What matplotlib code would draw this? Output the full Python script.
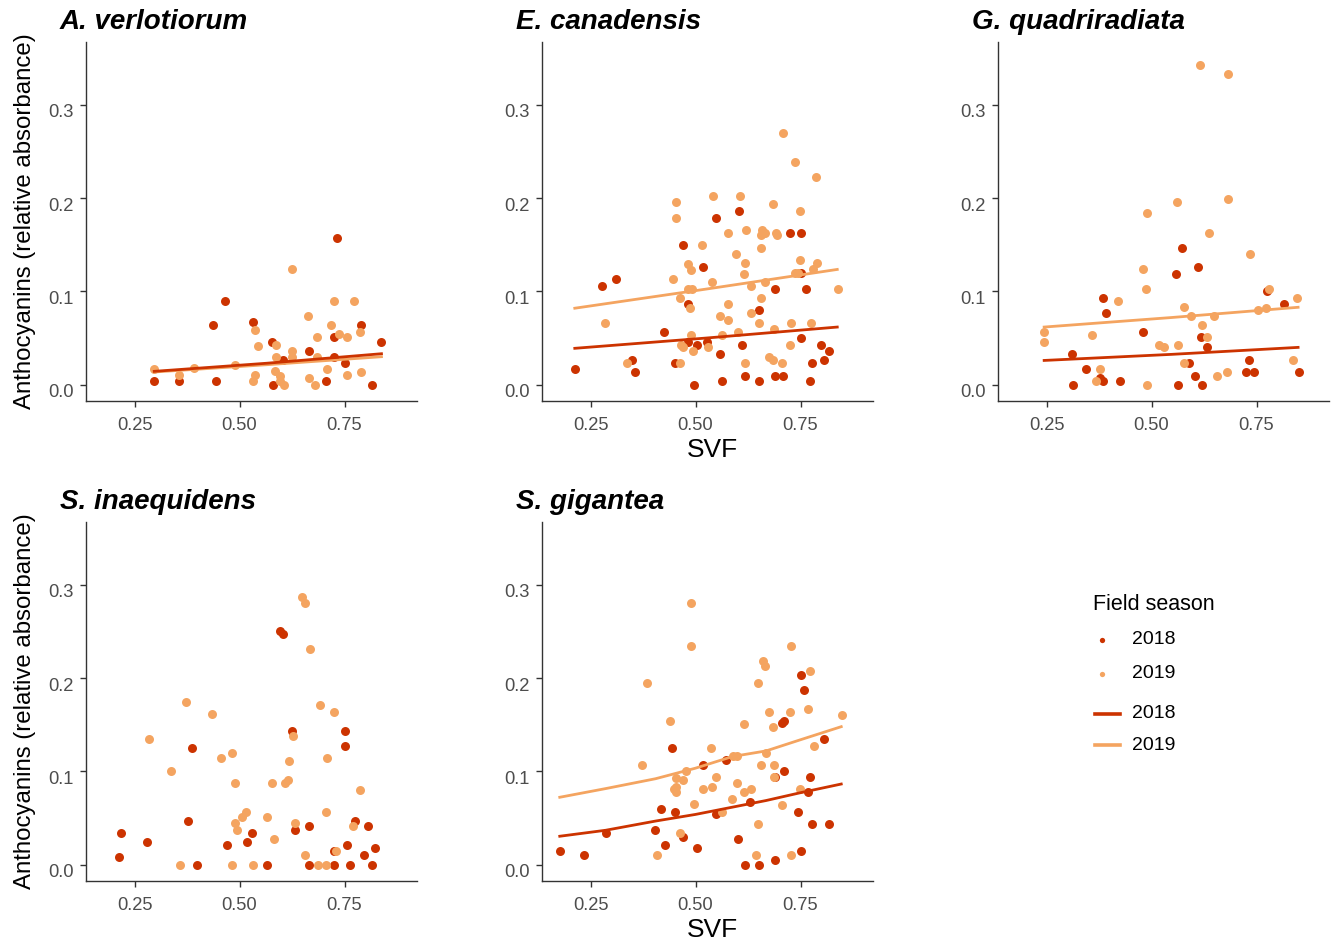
import matplotlib
matplotlib.use("Agg")
import matplotlib.pyplot as plt
from matplotlib.lines import Line2D
from matplotlib.transforms import ScaledTranslation

plt.rcParams['font.family'] = ['Liberation Sans', 'DejaVu Sans']

species = ["A. verlotiorum", "E. canadensis", "G. quadriradiata", "S. inaequidens", "S. gigantea"]
seasons = ["2018", "2019"]
colors = {"2018": "#CC3300", "2019": "#F4A460"}

# ---- A. verlotiorum ----
av18_x = [0.297, 0.356, 0.444, 0.466, 0.437, 0.532, 0.577, 0.604, 0.579, 0.665, 0.731, 0.725, 0.725, 0.705, 0.752, 0.789, 0.816, 0.838]
av18_y = [0.004, 0.004, 0.004, 0.090, 0.064, 0.067, 0.046, 0.027, 0.000, 0.036, 0.1575, 0.051, 0.030, 0.004, 0.023, 0.064, 0.000, 0.046]
av19_x = [0.297, 0.356, 0.392, 0.489, 0.538, 0.544, 0.538, 0.533, 0.587, 0.587, 0.584, 0.597, 0.597, 0.607, 0.625, 0.625, 0.625, 0.662, 0.685, 0.685, 0.665, 0.679, 0.708, 0.718, 0.725, 0.737, 0.756, 0.756, 0.773, 0.787, 0.789]
av19_y = [0.017, 0.010, 0.0175, 0.021, 0.059, 0.041, 0.010, 0.004, 0.043, 0.030, 0.015, 0.009, 0.004, 0.000, 0.124, 0.036, 0.030, 0.074, 0.051, 0.030, 0.007, 0.000, 0.017, 0.064, 0.090, 0.054, 0.051, 0.010, 0.090, 0.056, 0.014]
av18_fit_x = [0.297, 0.565, 0.838]
av18_fit_y = [0.0143, 0.0230, 0.0332]
av19_fit_x = [0.297, 0.565, 0.838]
av19_fit_y = [0.0136, 0.0214, 0.0300]

# ---- E. canadensis ----
ec18_x = [0.2126, 0.277, 0.3105, 0.3495, 0.356, 0.425, 0.4506, 0.4705, 0.481, 0.483, 0.503, 0.497, 0.518, 0.528, 0.549, 0.559, 0.564, 0.603, 0.6115, 0.617, 0.650, 0.650, 0.689, 0.689, 0.709, 0.7245, 0.751, 0.751, 0.751, 0.764, 0.7715, 0.777, 0.798, 0.807, 0.817]
ec18_y = [0.0171, 0.106, 0.1136, 0.027, 0.014, 0.056, 0.023, 0.150, 0.0864, 0.0457, 0.0429, 0.000, 0.1264, 0.0457, 0.179, 0.033, 0.0036, 0.186, 0.043, 0.0096, 0.0796, 0.0036, 0.103, 0.0096, 0.0096, 0.163, 0.163, 0.120, 0.050, 0.103, 0.0036, 0.023, 0.043, 0.027, 0.036]
ec19_x = [0.285, 0.336, 0.4475, 0.454, 0.454, 0.464, 0.464, 0.465, 0.4705, 0.4825, 0.489, 0.481, 0.4905, 0.487, 0.490, 0.493, 0.516, 0.529, 0.540, 0.541, 0.559, 0.5635, 0.578, 0.578, 0.578, 0.597, 0.601, 0.6065, 0.6145, 0.617, 0.617, 0.621, 0.633, 0.633, 0.650, 0.656, 0.659, 0.665, 0.656, 0.657, 0.666, 0.675, 0.684, 0.684, 0.687, 0.692, 0.693, 0.7055, 0.7095, 0.7245, 0.7285, 0.737, 0.7365, 0.743, 0.748, 0.748, 0.774, 0.780, 0.787, 0.790, 0.839]
ec19_y = [0.0664, 0.023, 0.1136, 0.196, 0.179, 0.0925, 0.023, 0.043, 0.040, 0.129, 0.123, 0.103, 0.103, 0.082, 0.0536, 0.0357, 0.150, 0.040, 0.110, 0.2025, 0.074, 0.0536, 0.163, 0.0868, 0.0696, 0.140, 0.056, 0.2025, 0.119, 0.130, 0.023, 0.166, 0.106, 0.077, 0.0664, 0.160, 0.166, 0.163, 0.147, 0.093, 0.110, 0.030, 0.027, 0.1936, 0.0596, 0.163, 0.160, 0.023, 0.270, 0.043, 0.0664, 0.239, 0.120, 0.120, 0.186, 0.134, 0.0664, 0.1236, 0.223, 0.130, 0.103]
ec18_fit_x = [0.2126, 0.525, 0.8375]
ec18_fit_y = [0.0390, 0.0500, 0.0618]
ec19_fit_x = [0.2126, 0.525, 0.8375]
ec19_fit_y = [0.0820, 0.1025, 0.1236]

# ---- G. quadriradiata ----
gq18_x = [0.311, 0.3135, 0.344, 0.3785, 0.3855, 0.3855, 0.391, 0.4245, 0.480, 0.559, 0.564, 0.5715, 0.590, 0.604, 0.611, 0.617, 0.621, 0.631, 0.731, 0.7245, 0.745, 0.776, 0.815, 0.8516]
gq18_y = [0.033, 0.000, 0.017, 0.007, 0.0036, 0.093, 0.077, 0.0036, 0.056, 0.119, 0.000, 0.147, 0.023, 0.0096, 0.1264, 0.0507, 0.000, 0.040, 0.027, 0.014, 0.014, 0.100, 0.0868, 0.014]
gq19_x = [0.2444, 0.2444, 0.359, 0.369, 0.3785, 0.421, 0.479, 0.4865, 0.4897, 0.4897, 0.518, 0.5286, 0.561, 0.564, 0.578, 0.578, 0.595, 0.616, 0.621, 0.633, 0.6365, 0.649, 0.657, 0.679, 0.6825, 0.6825, 0.735, 0.754, 0.773, 0.7786, 0.838, 0.847]
gq19_y = [0.056, 0.046, 0.0536, 0.0036, 0.017, 0.090, 0.124, 0.103, 0.184, 0.000, 0.043, 0.040, 0.196, 0.043, 0.083, 0.023, 0.074, 0.343, 0.064, 0.0507, 0.163, 0.074, 0.0096, 0.014, 0.333, 0.1996, 0.140, 0.0796, 0.082, 0.103, 0.027, 0.093]
gq18_fit_x = [0.2444, 0.547, 0.849]
gq18_fit_y = [0.0260, 0.0325, 0.0400]
gq19_fit_x = [0.2444, 0.547, 0.849]
gq19_fit_y = [0.0618, 0.0720, 0.0830]

# ---- S. inaequidens ----
si18_x = [0.214, 0.2167, 0.2786, 0.378, 0.386, 0.3992, 0.4698, 0.519, 0.5286, 0.565, 0.597, 0.604, 0.625, 0.631, 0.666, 0.666, 0.7254, 0.7254, 0.751, 0.751, 0.756, 0.763, 0.776, 0.797, 0.806, 0.816, 0.822]
si18_y = [0.008, 0.034, 0.024, 0.047, 0.1246, 0.000, 0.0214, 0.024, 0.034, 0.000, 0.2507, 0.247, 0.1436, 0.037, 0.0414, 0.000, 0.000, 0.015, 0.1436, 0.1275, 0.021, 0.000, 0.047, 0.0107, 0.0418, 0.000, 0.0179]
si19_x = [0.285, 0.3365, 0.3595, 0.373, 0.435, 0.4548, 0.4825, 0.4833, 0.4897, 0.4897, 0.493, 0.5063, 0.516, 0.533, 0.565, 0.578, 0.581, 0.6087, 0.615, 0.6167, 0.6265, 0.6333, 0.6484, 0.657, 0.656, 0.669, 0.6857, 0.692, 0.7056, 0.7048, 0.709, 0.7254, 0.7286, 0.7706, 0.7865]
si19_y = [0.135, 0.101, 0.000, 0.174, 0.1614, 0.114, 0.120, 0.000, 0.088, 0.0443, 0.0368, 0.0514, 0.057, 0.000, 0.0514, 0.088, 0.028, 0.088, 0.091, 0.1114, 0.1375, 0.0443, 0.2875, 0.2807, 0.0107, 0.2314, 0.000, 0.1714, 0.000, 0.057, 0.114, 0.1636, 0.015, 0.0414, 0.080]

# ---- S. gigantea ----
sg18_x = [0.1768, 0.2349, 0.2874, 0.4045, 0.418, 0.4275, 0.4443, 0.4514, 0.4713, 0.5032, 0.519, 0.549, 0.5717, 0.601, 0.617, 0.6306, 0.652, 0.6895, 0.690, 0.706, 0.710, 0.710, 0.745, 0.7508, 0.7508, 0.758, 0.7667, 0.7715, 0.777, 0.807, 0.8177]
sg18_y = [0.015, 0.0107, 0.0336, 0.0368, 0.060, 0.0214, 0.1246, 0.057, 0.030, 0.0175, 0.107, 0.054, 0.112, 0.028, 0.000, 0.0675, 0.000, 0.094, 0.0046, 0.152, 0.154, 0.101, 0.057, 0.2036, 0.015, 0.187, 0.0775, 0.094, 0.044, 0.135, 0.044]
sg19_x = [0.3726, 0.3846, 0.4077, 0.4395, 0.453, 0.448, 0.4538, 0.4538, 0.4642, 0.4705, 0.4769, 0.4897, 0.4897, 0.4968, 0.519, 0.5358, 0.5398, 0.549, 0.5637, 0.5868, 0.5884, 0.598, 0.598, 0.6146, 0.6146, 0.633, 0.6433, 0.6497, 0.6497, 0.6568, 0.660, 0.6648, 0.6672, 0.675, 0.6847, 0.6863, 0.6863, 0.7054, 0.7245, 0.7285, 0.7285, 0.748, 0.7667, 0.7715, 0.781, 0.8487]
sg19_y = [0.107, 0.195, 0.0107, 0.1536, 0.093, 0.081, 0.0836, 0.0775, 0.034, 0.091, 0.101, 0.281, 0.2343, 0.065, 0.081, 0.1246, 0.0836, 0.094, 0.057, 0.0704, 0.1168, 0.1168, 0.088, 0.0775, 0.151, 0.081, 0.0107, 0.195, 0.044, 0.107, 0.2186, 0.2132, 0.1196, 0.164, 0.148, 0.107, 0.094, 0.064, 0.164, 0.2343, 0.0107, 0.081, 0.167, 0.208, 0.1275, 0.161]
sg18_fit_x = [0.1768, 0.286, 0.405, 0.500, 0.588, 0.668, 0.748, 0.847]
sg18_fit_y = [0.0305, 0.0369, 0.0468, 0.0539, 0.0617, 0.0688, 0.0770, 0.0865]
sg19_fit_x = [0.1768, 0.286, 0.405, 0.500, 0.588, 0.668, 0.748, 0.847]
sg19_fit_y = [0.0723, 0.0816, 0.0922, 0.1035, 0.1160, 0.1220, 0.1337, 0.1480]

panels = [
    (species[0], (av18_x, av18_y), (av19_x, av19_y), (av18_fit_x, av18_fit_y), (av19_fit_x, av19_fit_y)),
    (species[1], (ec18_x, ec18_y), (ec19_x, ec19_y), (ec18_fit_x, ec18_fit_y), (ec19_fit_x, ec19_fit_y)),
    (species[2], (gq18_x, gq18_y), (gq19_x, gq19_y), (gq18_fit_x, gq18_fit_y), (gq19_fit_x, gq19_fit_y)),
    (species[3], (si18_x, si18_y), (si19_x, si19_y), None, None),
    (species[4], (sg18_x, sg18_y), (sg19_x, sg19_y), (sg18_fit_x, sg18_fit_y), (sg19_fit_x, sg19_fit_y)),
]

xticks = [0.25, 0.50, 0.75]
xticklabels = ["0.25", "0.50", "0.75"]
yticks = [0.0, 0.1, 0.2, 0.3]
yticklabels = ["0.0", "0.1", "0.2", "0.3"]

W, H = 1335, 942
fig = plt.figure(figsize=(W / 100, H / 100), dpi=100)

col_left = [86, 542, 998]
row_top = [42, 522]
ax_w, ax_h = 331, 359
ydown = ScaledTranslation(0, -6 / 100, fig.dpi_scale_trans)

for i, (name, p18, p19, f18, f19) in enumerate(panels):
    r, c = divmod(i, 3)
    l = col_left[c]
    t = row_top[r]
    ax = fig.add_axes([l / W, 1 - (t + ax_h) / H, ax_w / W, ax_h / H])
    ax.scatter(p18[0], p18[1], s=42, color=colors["2018"], linewidths=0, zorder=2)
    ax.scatter(p19[0], p19[1], s=42, color=colors["2019"], linewidths=0, zorder=2)
    if f18 is not None:
        ax.plot(f19[0], f19[1], color=colors["2019"], lw=2.0, zorder=3)
        ax.plot(f18[0], f18[1], color=colors["2018"], lw=2.0, zorder=3)
    ax.set_xlim(0.1345, 0.9226)
    ax.set_ylim(-0.0175, 0.3675)
    ax.set_xticks(xticks)
    ax.set_xticklabels(xticklabels)
    ax.set_yticks(yticks)
    ax.set_yticklabels(yticklabels)
    for s in ["top", "right"]:
        ax.spines[s].set_visible(False)
    for s in ["left", "bottom"]:
        ax.spines[s].set_color("#333333")
        ax.spines[s].set_linewidth(1.0)
    ax.tick_params(axis="both", colors="#333333", labelcolor="#4D4D4D", labelsize=13.2, length=4, width=1.0)
    ax.tick_params(axis="x", pad=7.5)
    ax.tick_params(axis="y", pad=5)
    for lab in ax.get_yticklabels():
        lab.set_transform(lab.get_transform() + ydown)
    if c == 0:
        ax.set_ylabel("Anthocyanins (relative absorbance)", fontsize=17.3, color="black", va="center")
        ax.yaxis.set_label_coords(-61 / ax_w, 0.5)
    if c == 1:
        ax.set_xlabel("SVF", fontsize=19, color="black", va="center")
        ax.xaxis.set_label_coords(0.515, -49 / ax_h)
    fig.text((l - 26) / W, 1 - (t - 20) / H, name, fontsize=20, fontweight="bold", fontstyle="italic",
             ha="left", va="center")

# legend (drawn in figure pixel coordinates)
def fx(px):
    return px / W

def fy(py):
    return 1 - py / H

fig.text(fx(1093), fy(605), "Field season", fontsize=15.5, ha="left", va="center")
pt_rows = [640, 674]
ln_rows = [714, 745]
for s, yy in zip(seasons, pt_rows):
    fig.add_artist(Line2D([fx(1102)], [fy(yy)], marker="o", ls="none", markersize=3.8,
                          color=colors[s], markeredgewidth=0, transform=fig.transFigure))
    fig.text(fx(1132), fy(yy), s, fontsize=14, ha="left", va="center")
for s, yy in zip(seasons, ln_rows):
    fig.add_artist(Line2D([fx(1095), fx(1120)], [fy(yy), fy(yy)], lw=2.6,
                          color=colors[s], transform=fig.transFigure))
    fig.text(fx(1132), fy(yy), s, fontsize=14, ha="left", va="center")

fig.savefig("out.png", dpi=100)
